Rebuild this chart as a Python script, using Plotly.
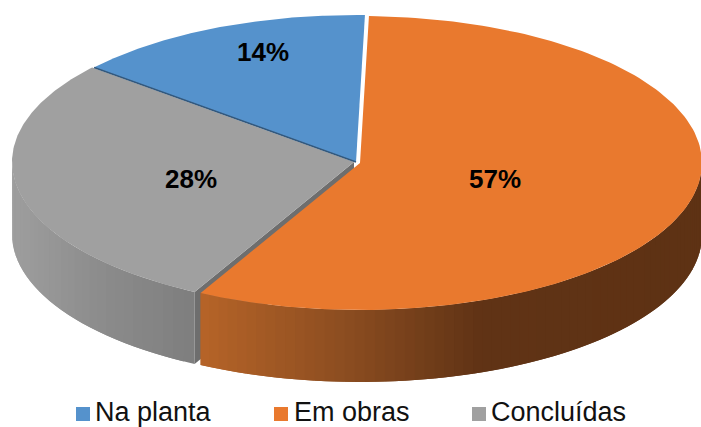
import numpy as np
import plotly.graph_objects as go

categories = ["Na planta", "Em obras", "Concluídas"]
values = [14.3, 57.3, 28.4]
labels = ["14%", "57%", "28%"]
colors = ["#5592CC", "#E9792E", "#A0A0A0"]

W, H = 701, 427
CX, CY, RX, RY, DEPTH = 355, 162, 342, 147, 72
START = 1.5  # parametric angle at which the orange slice begins
OFFSET = {"Na planta": (1, 0), "Em obras": (5, 1), "Concluídas": (-1, 0)}
ORANGE_STOPS = [(200, (182, 100, 40)), (350, (138, 76, 32)), (480, (96, 51, 21)), (701, (94, 50, 20))]
GRAY_STOPS = [(12, (158, 158, 158)), (100, (140, 140, 140)), (195, (126, 126, 126))]
LABEL_POS = {"Na planta": (263, 54), "Em obras": (495, 181), "Concluídas": (191, 181)}
LEGEND_X = {"Na planta": 83, "Em obras": 281, "Concluídas": 479}
LEGEND_TEXT_X = {"Na planta": 95, "Em obras": 294, "Concluídas": 491}
LEGEND_Y = 414

share = [v / sum(values) * 360 for v in values]
orange_a = START
orange_b = orange_a + share[1]
gray_a = orange_b
gray_b = gray_a + share[2]
blue_a = gray_b
blue_b = blue_a + share[0]


def pt(t, name, drop=0.0):
    dx, dy = OFFSET[name]
    r = np.radians(t)
    return CX + dx + RX * np.sin(r), CY + dy - RY * np.cos(r) + drop


def wedge(a, b, name):
    ts = np.linspace(a, b, 160)
    xs, ys = pt(ts, name)
    ax, ay = CX + OFFSET[name][0], CY + OFFSET[name][1]
    return [ax, *xs, ax], [ay, *ys, ay]


def stop_color(x, stops):
    xp = [s[0] for s in stops]
    c = [np.interp(x, xp, [s[1][i] for s in stops]) for i in range(3)]
    return "rgb(%d,%d,%d)" % tuple(int(round(v)) for v in c)


fig = go.Figure()


def poly(x, y, color):
    fig.add_trace(go.Scatter(x=list(x), y=list(y), mode="lines", fill="toself", fillcolor=color,
                             line=dict(width=0), hoverinfo="skip", showlegend=False))


def side(a, b, name, stops, n):
    """Gradient wall; every strip runs on under the next strip so no seams show."""
    edges = np.linspace(a, b, n + 1)
    for i in range(n):
        t1, t2 = edges[i], edges[min(i + 2, n)]
        ts = np.linspace(t1, t2, 7)
        x1, y1 = pt(ts, name)
        x2, y2 = pt(ts[::-1], name, DEPTH)
        mid = pt((edges[i] + edges[i + 1]) / 2, name)[0]
        poly([*x1, *x2, x1[0]], [*y1, *y2, y1[0]], stop_color(float(mid), stops))


# Gray slice
side(gray_a, 270, "Concluídas", GRAY_STOPS, 30)
ex, ey = pt(gray_a, "Concluídas")
ax, ay = CX + OFFSET["Concluídas"][0], CY + OFFSET["Concluídas"][1]
poly([ex, ax, ax, ex, ex], [ey, ay, ay + DEPTH, ey + DEPTH, ey], "#6E6E6E")
poly(*wedge(gray_a, gray_b, "Concluídas"), colors[2])

# Orange slice
side(90, orange_b, "Em obras", ORANGE_STOPS, 70)
poly(*wedge(orange_a, orange_b, "Em obras"), colors[1])

# Blue slice
poly(*wedge(blue_a, blue_b, "Na planta"), colors[0])
bx, by = pt(blue_a, "Na planta")
ax, ay = CX + OFFSET["Na planta"][0], CY + OFFSET["Na planta"][1]
fig.add_trace(go.Scatter(x=[bx, ax], y=[by, ay], mode="lines", line=dict(color="#33587C", width=1.6),
                         hoverinfo="skip", showlegend=False))

# Percent labels
fig.add_trace(go.Scatter(x=[LABEL_POS[c][0] for c in categories], y=[LABEL_POS[c][1] for c in categories],
                         mode="text", text=labels, textposition="middle center",
                         textfont=dict(family="Liberation Sans", size=26, color="#000000", weight="bold"),
                         hoverinfo="skip", showlegend=False))

# Legend row
for c, col in zip(categories, colors):
    fig.add_trace(go.Scatter(x=[LEGEND_X[c]], y=[LEGEND_Y], mode="markers", name=c,
                             marker=dict(symbol="square", size=14, color=col),
                             hoverinfo="skip", showlegend=False))
    fig.add_trace(go.Scatter(x=[LEGEND_TEXT_X[c]], y=[LEGEND_Y], mode="text", text=[c],
                             textposition="middle right",
                             textfont=dict(family="Liberation Sans", size=27, color="#111111"),
                             hoverinfo="skip", showlegend=False))

fig.update_layout(
    width=W, height=H, autosize=False, margin=dict(l=0, r=0, t=0, b=0),
    paper_bgcolor="white", plot_bgcolor="white", showlegend=False,
    xaxis=dict(range=[0, W], visible=False, fixedrange=True),
    yaxis=dict(range=[H, 0], visible=False, fixedrange=True),
)
fig.write_html("out.html", config={"displayModeBar": False},
               post_script="document.body.style.margin='0';document.body.style.overflow='hidden';")
